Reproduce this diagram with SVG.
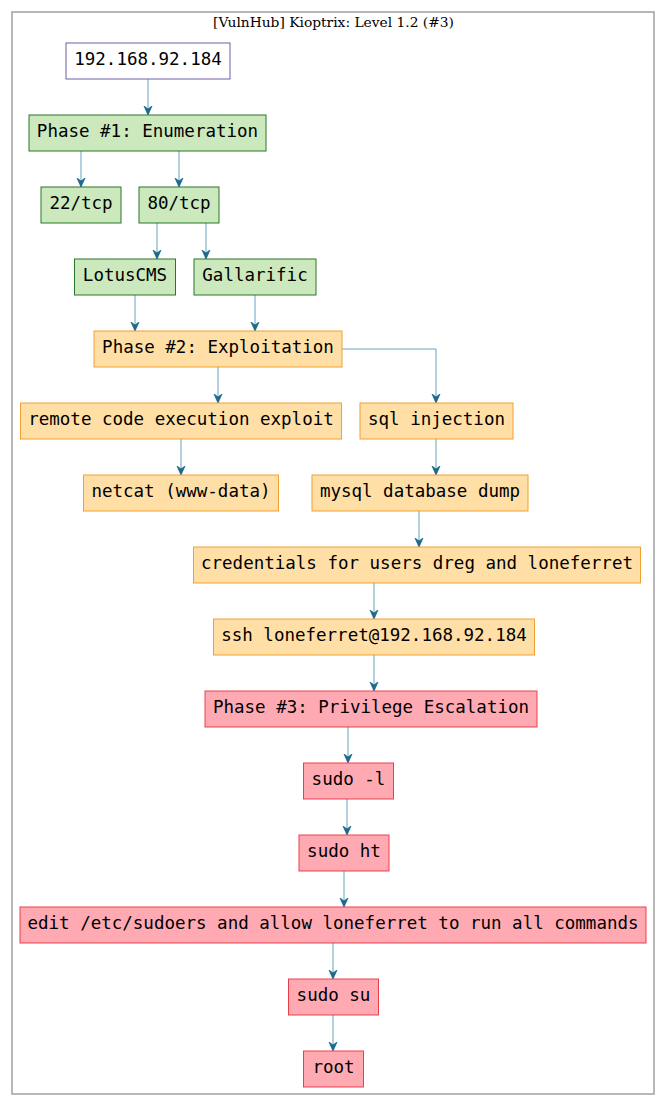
<svg xmlns="http://www.w3.org/2000/svg" width="666" height="1107" viewBox="0 0 666 1107">
<defs>
<style>
.n text{font-family:"DejaVu Sans Mono",monospace;font-size:17.5px;text-anchor:middle;fill:#000}
.n rect{stroke-width:1}
.ip rect{fill:#ffffff;stroke:#6a5fa8}
.g rect{fill:#cbe9bc;stroke:#2a772a}
.o rect{fill:#ffdfa6;stroke:#f0a030}
.r rect{fill:#ffaab3;stroke:#e8404a}
#edges path{fill:none;stroke:#6aa3be;stroke-width:1}
</style>
<marker id="ah" markerWidth="10" markerHeight="10" refX="9" refY="5" orient="auto" markerUnits="userSpaceOnUse">
<path d="M0,1 L9,5 L0,9 L3,5 Z" fill="#1d6a8c" stroke="#1d6a8c" stroke-width="0.8"/>
</marker>
</defs>
<rect x="0" y="0" width="666" height="1107" fill="#ffffff"/>
<g id="cluster">
<rect x="12" y="12" width="642" height="1082" fill="none" stroke="#a0a0a0" stroke-width="1.5"/>
<text x="333.5" y="27" font-family="DejaVu Serif,serif" font-size="13.8px" text-anchor="middle">[VulnHub] Kioptrix: Level 1.2 (#3)</text>
</g>
<g id="edges">
<path d="M148,79 V115" marker-end="url(#ah)"/>
<path d="M81,151 V187" marker-end="url(#ah)"/>
<path d="M179,151 V187" marker-end="url(#ah)"/>
<path d="M157,223 V259" marker-end="url(#ah)"/>
<path d="M206,223 V259" marker-end="url(#ah)"/>
<path d="M135,295 V331" marker-end="url(#ah)"/>
<path d="M255,295 V331" marker-end="url(#ah)"/>
<path d="M218,367 V403" marker-end="url(#ah)"/>
<path d="M342,349 H436 V403" marker-end="url(#ah)"/>
<path d="M181,439 V475" marker-end="url(#ah)"/>
<path d="M436,439 V475" marker-end="url(#ah)"/>
<path d="M419,511 V547" marker-end="url(#ah)"/>
<path d="M374,583 V619" marker-end="url(#ah)"/>
<path d="M374,655 V691" marker-end="url(#ah)"/>
<path d="M348,727 V763" marker-end="url(#ah)"/>
<path d="M347,799 V835" marker-end="url(#ah)"/>
<path d="M344,871 V907" marker-end="url(#ah)"/>
<path d="M333,943 V979" marker-end="url(#ah)"/>
<path d="M333,1015 V1051" marker-end="url(#ah)"/>
</g>
<g id="n1" class="n ip"><rect x="66" y="43" width="164" height="36"/><text x="148" y="65">192.168.92.184</text></g>
<g id="n2" class="n g"><rect x="29" y="115" width="237" height="36"/><text x="147.5" y="137">Phase #1: Enumeration</text></g>
<g id="n3" class="n g"><rect x="41" y="187" width="80" height="36"/><text x="81" y="209">22/tcp</text></g>
<g id="n4" class="n g"><rect x="139" y="187" width="80" height="36"/><text x="179" y="209">80/tcp</text></g>
<g id="n5" class="n g"><rect x="74.5" y="259" width="101" height="36"/><text x="125" y="281">LotusCMS</text></g>
<g id="n6" class="n g"><rect x="194" y="259" width="122" height="36"/><text x="255" y="281">Gallarific</text></g>
<g id="n7" class="n o"><rect x="94" y="331" width="248" height="36"/><text x="218" y="353">Phase #2: Exploitation</text></g>
<g id="n8" class="n o"><rect x="20.5" y="403" width="321" height="36"/><text x="181" y="425">remote code execution exploit</text></g>
<g id="n9" class="n o"><rect x="360" y="403" width="153" height="36"/><text x="436.5" y="425">sql injection</text></g>
<g id="n10" class="n o"><rect x="83.5" y="475" width="195" height="36"/><text x="181" y="497">netcat (www-data)</text></g>
<g id="n11" class="n o"><rect x="312" y="475" width="216" height="36"/><text x="420" y="497">mysql database dump</text></g>
<g id="n12" class="n o"><rect x="193.5" y="547" width="447" height="36"/><text x="417" y="569">credentials for users dreg and loneferret</text></g>
<g id="n13" class="n o"><rect x="213.5" y="619" width="321" height="36"/><text x="374" y="641">ssh loneferret@192.168.92.184</text></g>
<g id="n14" class="n r"><rect x="205" y="691" width="332" height="36"/><text x="371" y="713">Phase #3: Privilege Escalation</text></g>
<g id="n15" class="n r"><rect x="303.5" y="763" width="90" height="36"/><text x="348.5" y="785">sudo -l</text></g>
<g id="n16" class="n r"><rect x="299" y="835" width="90" height="36"/><text x="344" y="857">sudo ht</text></g>
<g id="n17" class="n r"><rect x="20" y="907" width="626" height="36"/><text x="333" y="929">edit /etc/sudoers and allow loneferret to run all commands</text></g>
<g id="n18" class="n r"><rect x="288.5" y="979" width="90" height="36"/><text x="333.5" y="1001">sudo su</text></g>
<g id="n19" class="n r"><rect x="303.5" y="1051" width="60" height="36"/><text x="333.5" y="1073">root</text></g>
</svg>
